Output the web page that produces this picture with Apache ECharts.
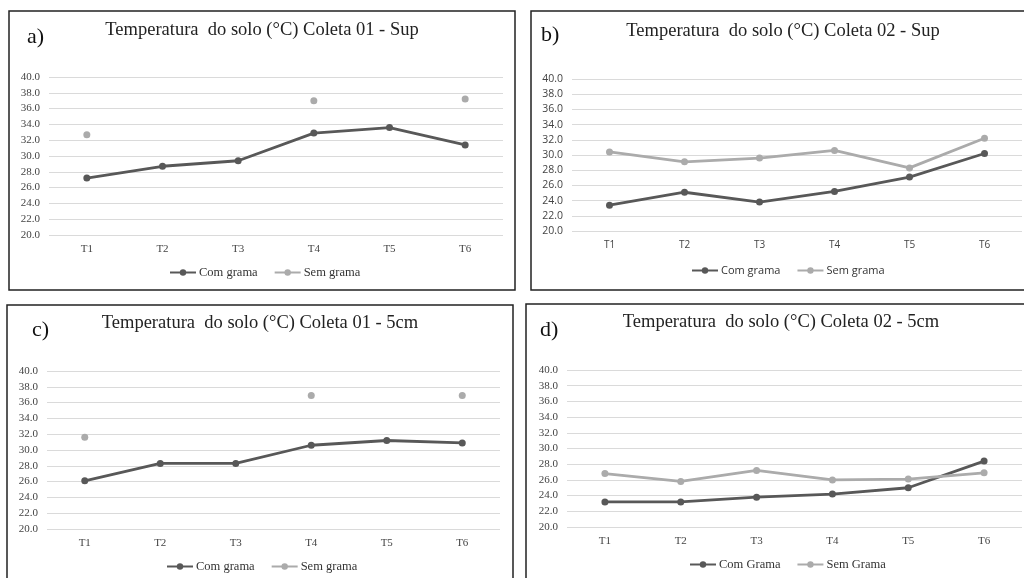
<!DOCTYPE html>
<html>
<head>
<meta charset="utf-8">
<script src="https://cdn.jsdelivr.net/npm/echarts@6/dist/echarts.min.js"></script>
<style>
  html, body { margin: 0; padding: 0; background: #fff; }
  #main { width: 1024px; height: 578px; }
</style>
</head>
<body>
<div id="main"></div>
<script>
// dados (leitura aproximada do gráfico)
var categories = ['T1', 'T2', 'T3', 'T4', 'T5', 'T6'];
var comA = [27.2, 28.7, 29.4, 32.9, 33.6, 31.4];
var semA = [32.7, null, null, 37.0, null, 37.2];
var comB = [23.4, 25.1, 23.8, 25.2, 27.1, 30.2];
var semB = [30.4, 29.1, 29.6, 30.6, 28.3, 32.2];
var comC = [26.1, 28.3, 28.3, 30.6, 31.2, 30.9];
var semC = [31.6, null, null, 36.9, null, 36.9];
var comD = [23.2, 23.2, 23.8, 24.2, 25.0, 28.4];
var semD = [26.8, 25.8, 27.2, 26.0, 26.1, 26.9];
var titles = [
  'Temperatura  do solo (°C) Coleta 01 - Sup',
  'Temperatura  do solo (°C) Coleta 02 - Sup',
  'Temperatura  do solo (°C) Coleta 01 - 5cm',
  'Temperatura  do solo (°C) Coleta 02 - 5cm'
];
var letters = ['a)', 'b)', 'c)', 'd)'];

(function () {
  var myChart = echarts.init(document.getElementById('main'));
  var DARK = '#585858', LIGHT = '#ababab';
  var SERIF = '"Liberation Serif", "Times New Roman", serif';
  var SANS = '"Open Sans", "Liberation Sans", sans-serif';

  // posições de cada painel
  var panels = [
    { grid: { left: 49, top: 77, width: 454, height: 158 }, box: [9, 11, 506, 279], tx: 262, ty: 21, lx: 27, ly: 26, legTop: 266, legX: 264, font: SERIF, names: ['Com grama', 'Sem grama'], com: comA, sem: semA },
    { grid: { left: 572, top: 79, width: 450, height: 152 }, box: [531, 11, 520, 279], tx: 783, ty: 22, lx: 541, ly: 24, legTop: 265, legX: 786, font: SANS, names: ['Com grama', 'Sem grama'], com: comB, sem: semB },
    { grid: { left: 47, top: 371, width: 453, height: 158 }, box: [7, 305, 506, 300], tx: 260, ty: 314, lx: 32, ly: 319, legTop: 560, legX: 261, font: SERIF, names: ['Com grama', 'Sem grama'], com: comC, sem: semC },
    { grid: { left: 567, top: 370, width: 455, height: 157 }, box: [526, 304, 520, 300], tx: 781, ty: 313, lx: 540, ly: 319, legTop: 558, legX: 784, font: SERIF, names: ['Com Grama', 'Sem Grama'], com: comD, sem: semD }
  ];

  var option = {
    backgroundColor: '#fff',
    animation: false,
    title: [],
    legend: [],
    grid: [],
    xAxis: [],
    yAxis: [],
    series: [],
    graphic: []
  };

  panels.forEach(function (p, i) {
    option.graphic.push({
      type: 'rect',
      shape: { x: p.box[0], y: p.box[1], width: p.box[2], height: p.box[3] },
      style: { fill: 'none', stroke: '#222', lineWidth: 1.5 },
      silent: true
    });
    option.graphic.push({
      type: 'text',
      left: p.lx,
      top: p.ly,
      style: { text: letters[i], font: '22px ' + SERIF, fill: '#111' }
    });
    option.title.push({
      text: titles[i],
      left: p.tx,
      top: p.ty,
      textAlign: 'center',
      padding: 0,
      textStyle: { fontFamily: SERIF, fontSize: 18.5, fontWeight: 'normal', color: '#222' }
    });
    option.legend.push({
      data: p.names,
      left: p.legX - 95,
      top: p.legTop,
      orient: 'horizontal',
      itemWidth: 26,
      itemHeight: 8,
      itemGap: 16,
      padding: 0,
      textStyle: { fontFamily: p.font, fontSize: i === 1 ? 11 : 12.5, color: '#333', padding: [0, 0, 0, -2] }
    });
    option.grid.push(p.grid);
    option.xAxis.push({
      type: 'category',
      gridIndex: i,
      data: categories,
      boundaryGap: true,
      axisLine: { show: false },
      axisTick: { show: false },
      axisLabel: { fontFamily: p.font, fontSize: i === 1 ? 10 : 11, color: '#444', margin: 9 }
    });
    option.yAxis.push({
      type: 'value',
      gridIndex: i,
      min: 20,
      max: 40,
      interval: 2,
      axisLine: { show: false },
      axisTick: { show: false },
      splitLine: { lineStyle: { color: '#dadada', width: 1 } },
      axisLabel: {
        fontFamily: p.font, fontSize: i === 1 ? 10.5 : 11, color: '#444', margin: 9,
        formatter: function (v) { return v.toFixed(1); }
      }
    });
    option.series.push({
      name: p.names[0],
      type: 'line',
      xAxisIndex: i,
      yAxisIndex: i,
      data: p.com,
      symbol: 'circle',
      symbolSize: 7,
      lineStyle: { color: DARK, width: 2.8 },
      itemStyle: { color: DARK }
    });
    option.series.push({
      name: p.names[1],
      type: 'line',
      xAxisIndex: i,
      yAxisIndex: i,
      data: p.sem,
      symbol: 'circle',
      symbolSize: 7,
      connectNulls: false,
      lineStyle: { color: LIGHT, width: 2.8 },
      itemStyle: { color: LIGHT }
    });
  });

  myChart.setOption(option);
  window.addEventListener('resize', function () {
    myChart.resize();
  });
})();
</script>
</body>
</html>
